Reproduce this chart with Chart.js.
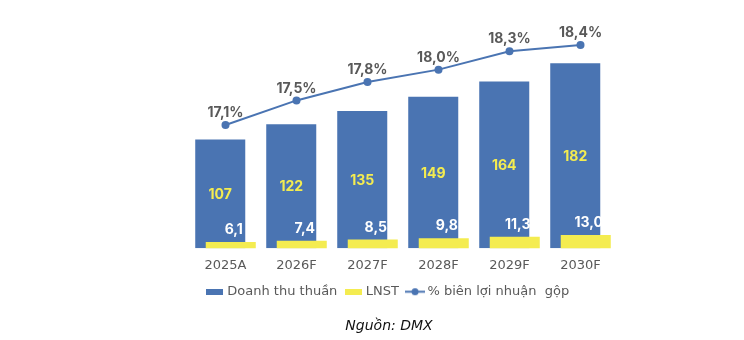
<!DOCTYPE html>
<html>
<head>
<meta charset="utf-8">
<script src="https://cdn.jsdelivr.net/npm/chart.js@4"></script>
<style>
  body { margin: 0; background: #fff; }
  #wrap { width: 744px; height: 340px; }
</style>
</head>
<body>
<div id="wrap"><canvas id="chart" width="744" height="340"></canvas></div>
<script>
// data
const years = ["2025A", "2026F", "2027F", "2028F", "2029F", "2030F"];
const revenue = [107, 122, 135, 149, 164, 182];
const profit = [6.1, 7.4, 8.5, 9.8, 11.3, 13.0];
const grossMargin = [17.1, 17.5, 17.8, 18.0, 18.3, 18.4];
const seriesNames = ["Doanh thu thuần", "LNST", "% biên lợi nhuận  gộp"];
const sourceText = "Nguồn: DMX";

const BLUE = "#4a74b2";
const YELLOW = "#f4ec50";
const GREY = "#595959";
const FONT = "'DejaVu Sans', sans-serif";
const BOLD = "Inter, 'DejaVu Sans', sans-serif";

function comma(v) { return v.toFixed(1).replace(".", ","); }

// little legend swatches
function swatch(kind, color) {
    let c = document.createElement("canvas");
    if (kind === "rect") {
        c.width = 17; c.height = 6;
        let g = c.getContext("2d");
        g.fillStyle = color;
        g.fillRect(0, 0, 17, 6);
    } else {
        c.width = 20; c.height = 9;
        let g = c.getContext("2d");
        g.strokeStyle = color; g.lineWidth = 2;
        g.beginPath(); g.moveTo(0, 4.5); g.lineTo(20, 4.5); g.stroke();
        g.fillStyle = color;
        g.beginPath(); g.arc(10, 4.5, 3.5, 0, Math.PI * 2); g.fill();
    }
    return c;
}

// yellow bars must sit on top of the blue ones, so draw them last
const yellowOnTop = {
    id: "yellowOnTop",
    beforeDatasetDraw(chart, args) {
        if (args.index === 1) return false;
    },
    afterDatasetsDraw(chart) {
        chart.getDatasetMeta(1).controller.draw();
    }
};

// value labels
const valueLabels = {
    id: "valueLabels",
    afterDatasetsDraw(chart) {
        let ctx = chart.ctx;
        ctx.save();
        ctx.textAlign = "center";

        ctx.font = "bold 14px " + BOLD;
        ctx.fillStyle = YELLOW;
        ctx.textBaseline = "middle";
        chart.getDatasetMeta(0).data.forEach((bar, i) => {
            ctx.fillText(String(revenue[i]), bar.x, (bar.y + bar.base) / 2 + 1);
        });

        ctx.fillStyle = "#ffffff";
        ctx.textBaseline = "bottom";
        chart.getDatasetMeta(1).data.forEach((bar, i) => {
            ctx.fillText(comma(profit[i]), bar.x + 3, bar.y - 5);
        });

        ctx.fillStyle = GREY;
        chart.getDatasetMeta(2).data.forEach((pt, i) => {
            ctx.fillText(comma(grossMargin[i]) + "%", pt.x, pt.y - 5);
        });
        ctx.restore();
    }
};

let ctx = document.getElementById("chart").getContext("2d");
let chart = new Chart(ctx, {
    data: {
        labels: years,
        datasets: [
            {
                type: "bar",
                label: seriesNames[0],
                data: revenue,
                backgroundColor: BLUE,
                yAxisID: "y",
                categoryPercentage: 0.296,
                barPercentage: 4.76
            },
            {
                type: "bar",
                label: seriesNames[1],
                data: profit,
                backgroundColor: YELLOW,
                yAxisID: "y",
                categoryPercentage: 0.296,
                barPercentage: 4.76
            },
            {
                type: "line",
                label: seriesNames[2],
                data: grossMargin,
                borderColor: BLUE,
                backgroundColor: BLUE,
                borderWidth: 2,
                pointRadius: 4,
                pointBackgroundColor: BLUE,
                pointBorderWidth: 0,
                yAxisID: "y2",
                clip: false
            }
        ]
    },
    options: {
        responsive: false,
        animation: false,
        layout: { padding: { left: 162, right: 128, top: 45, bottom: 1 } },
        scales: {
            x: {
                grid: { display: false, drawTicks: false },
                border: { display: false },
                ticks: { color: GREY, font: { family: FONT, size: 13 }, padding: 10 },
                afterFit: s => { s.height = 27; }
            },
            y: {
                min: 0, max: 200,
                grid: { display: false, drawTicks: false },
                border: { display: false },
                ticks: { display: false },
                afterFit: s => { s.width = 28; }
            },
            y2: {
                display: false,
                min: 15.1, max: 18.4
            }
        },
        plugins: {
            tooltip: { enabled: false },
            legend: {
                position: "bottom",
                labels: {
                    usePointStyle: true,
                    pointStyleWidth: 12,
                    boxHeight: 6,
                    padding: 10,
                    color: GREY,
                    font: { family: FONT, size: 13 },
                    generateLabels: () => [
                        { text: seriesNames[0], pointStyle: swatch("rect", BLUE), fillStyle: BLUE, strokeStyle: BLUE, lineWidth: 0, fontColor: GREY, datasetIndex: 0 },
                        { text: seriesNames[1], pointStyle: swatch("rect", YELLOW), fillStyle: YELLOW, strokeStyle: YELLOW, lineWidth: 0, fontColor: GREY, datasetIndex: 1 },
                        { text: seriesNames[2], pointStyle: swatch("line", BLUE), fillStyle: BLUE, strokeStyle: BLUE, lineWidth: 0, fontColor: GREY, datasetIndex: 2 }
                    ]
                }
            },
            title: {
                display: true,
                position: "bottom",
                text: sourceText,
                color: "#111",
                font: { family: FONT, size: 14, style: "italic", weight: "normal" },
                padding: { top: 10, bottom: 4 }
            }
        }
    },
    plugins: [yellowOnTop, valueLabels]
});
</script>
</body>
</html>
